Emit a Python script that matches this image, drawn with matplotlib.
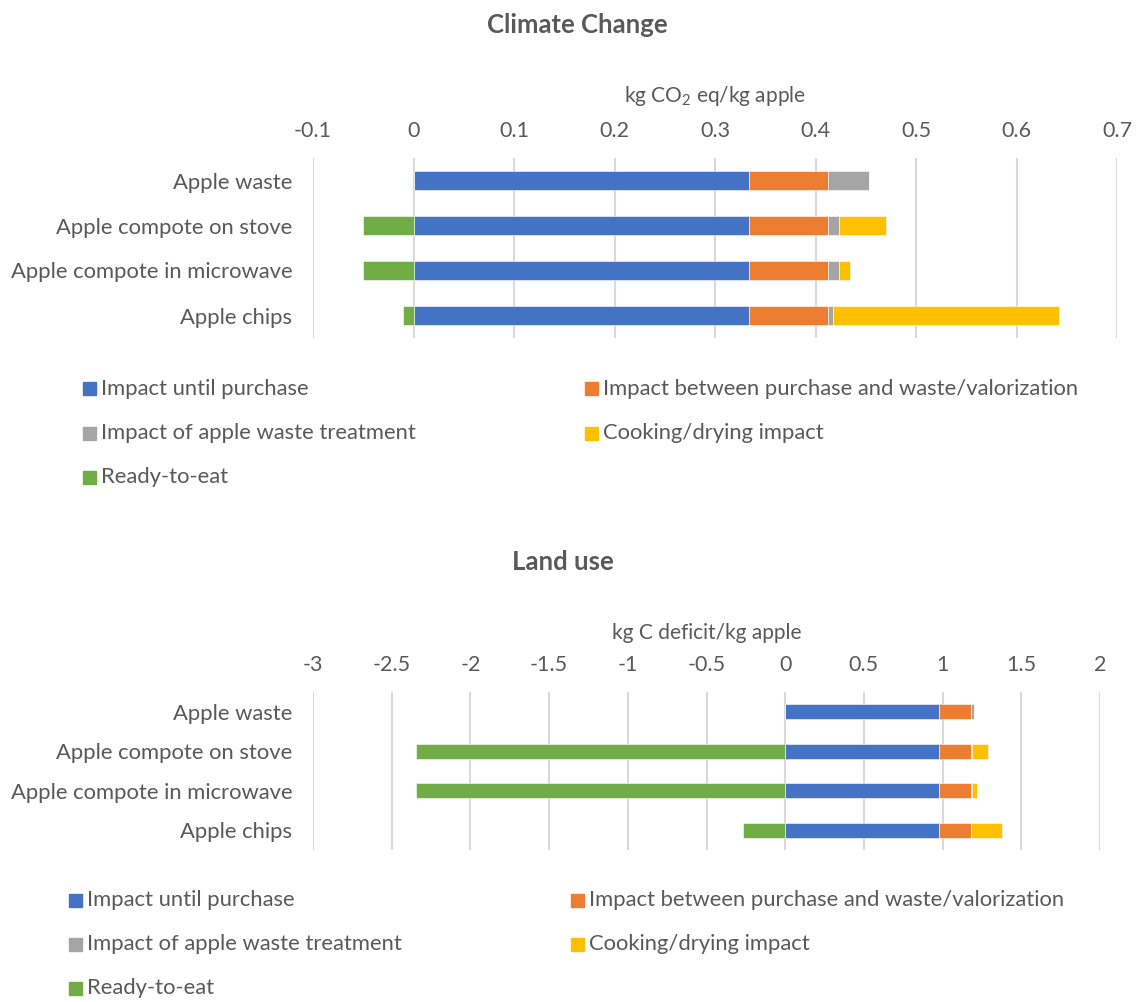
"""Stacked bar breakdown of apple impacts: climate change and land use."""

import matplotlib.pyplot as plt
from matplotlib.patches import Rectangle

plt.rcParams["font.family"] = ["Lato", "DejaVu Sans"]
plt.rcParams["mathtext.fontset"] = "custom"
plt.rcParams["mathtext.rm"] = "Lato"
plt.rcParams["mathtext.it"] = "Lato:italic"

TEXT = "#595959"
GRID = "#d9d9d9"

categories = ["Apple waste", "Apple compote on stove", "Apple compote in microwave", "Apple chips"]
series_names = [
    "Impact until purchase",
    "Impact between purchase and waste/valorization",
    "Impact of apple waste treatment",
    "Cooking/drying impact",
    "Ready-to-eat",
]
series_colors = ["#4472C4", "#ED7D31", "#A5A5A5", "#FFC000", "#70AD47"]

# climate change, kg CO2 eq/kg apple
cc_until_purchase = [0.334, 0.334, 0.334, 0.334]
cc_purchase_to_waste = [0.078, 0.078, 0.078, 0.078]
cc_waste_treatment = [0.041, 0.011, 0.011, 0.005]
cc_cooking = [0.0, 0.047, 0.011, 0.225]
cc_ready_to_eat = [0.0, -0.050, -0.050, -0.010]
cc_ticks = [-0.1, 0, 0.1, 0.2, 0.3, 0.4, 0.5, 0.6, 0.7]
cc_tick_labels = ["-0.1", "0", "0.1", "0.2", "0.3", "0.4", "0.5", "0.6", "0.7"]

# land use, kg C deficit/kg apple
lu_until_purchase = [0.98, 0.98, 0.98, 0.98]
lu_purchase_to_waste = [0.20, 0.20, 0.20, 0.20]
lu_waste_treatment = [0.017, 0.004, 0.004, 0.002]
lu_cooking = [0.0, 0.105, 0.034, 0.198]
lu_ready_to_eat = [0.0, -2.345, -2.345, -0.267]
lu_ticks = [-3, -2.5, -2, -1.5, -1, -0.5, 0, 0.5, 1, 1.5, 2]
lu_tick_labels = ["-3", "-2.5", "-2", "-1.5", "-1", "-0.5", "0", "0.5", "1", "1.5", "2"]


def draw_panel(ax, positives, negative, ticks, tick_labels, xlabel, bar_height, labelpad):
    y = list(range(len(categories)))
    left = [0.0] * len(categories)
    for values, color in zip(positives, series_colors[:4]):
        ax.barh(y, values, left=left, height=bar_height, color=color,
                edgecolor="white", linewidth=0.4, zorder=3)
        left = [a + b for a, b in zip(left, values)]
    ax.barh(y, negative, height=bar_height, color=series_colors[4],
            edgecolor="white", linewidth=0.4, zorder=3)

    ax.set_xlim(ticks[0], ticks[-1])
    ax.set_ylim(len(categories) - 0.5, -0.5)
    ax.set_xticks(ticks)
    ax.set_xticklabels(tick_labels)
    ax.set_yticks(y)
    ax.set_yticklabels(categories)
    ax.xaxis.tick_top()
    ax.xaxis.set_label_position("top")
    ax.set_xlabel(xlabel, fontsize=15, color=TEXT, labelpad=labelpad)
    ax.tick_params(axis="x", length=0, pad=12, labelsize=15.5, labelcolor=TEXT)
    ax.tick_params(axis="y", length=0, pad=15, labelsize=15.8, labelcolor=TEXT)
    ax.grid(axis="x", color=GRID, linewidth=1.5, zorder=0)
    ax.set_axisbelow(True)
    for spine in ax.spines.values():
        spine.set_visible(False)


def draw_legend(fig, x_cols, y_rows):
    order = [(0, 0, 0), (1, 0, 1), (2, 1, 0), (3, 1, 1), (4, 2, 0)]
    W, H = fig.get_size_inches() * fig.dpi
    for idx, row, col in order:
        x = x_cols[col]
        yc = y_rows[row]
        fig.patches.append(Rectangle((x / W, 1 - (yc + 6.5) / H), 13 / W, 13 / H,
                                     transform=fig.transFigure, color=series_colors[idx]))
        fig.text((x + 18) / W, 1 - yc / H, series_names[idx], fontsize=15.8,
                 color=TEXT, va="center", ha="left")


fig = plt.figure(figsize=(11.37, 10.02), dpi=100)
W, H = 1137, 1002

ax_cc = fig.add_axes([313 / W, 1 - 338 / H, 804 / W, 180 / H])
draw_panel(ax_cc,
           [cc_until_purchase, cc_purchase_to_waste, cc_waste_treatment, cc_cooking],
           cc_ready_to_eat, cc_ticks, cc_tick_labels,
           "kg CO$_2$ eq/kg apple", 0.42, 14)
fig.text(577 / W, 1 - 25 / H, "Climate Change", fontsize=18.5, fontweight="bold",
         color=TEXT, ha="center", va="center")
draw_legend(fig, [83, 585], [389, 433, 477])

ax_lu = fig.add_axes([313 / W, 1 - 850 / H, 787 / W, 158 / H])
draw_panel(ax_lu,
           [lu_until_purchase, lu_purchase_to_waste, lu_waste_treatment, lu_cooking],
           lu_ready_to_eat, lu_ticks, lu_tick_labels,
           "kg C deficit/kg apple", 0.38, 12)
fig.text(563 / W, 1 - 562 / H, "Land use", fontsize=18.5, fontweight="bold",
         color=TEXT, ha="center", va="center")
draw_legend(fig, [69, 571], [900, 944, 988])

fig.savefig("out.png", dpi=100)
